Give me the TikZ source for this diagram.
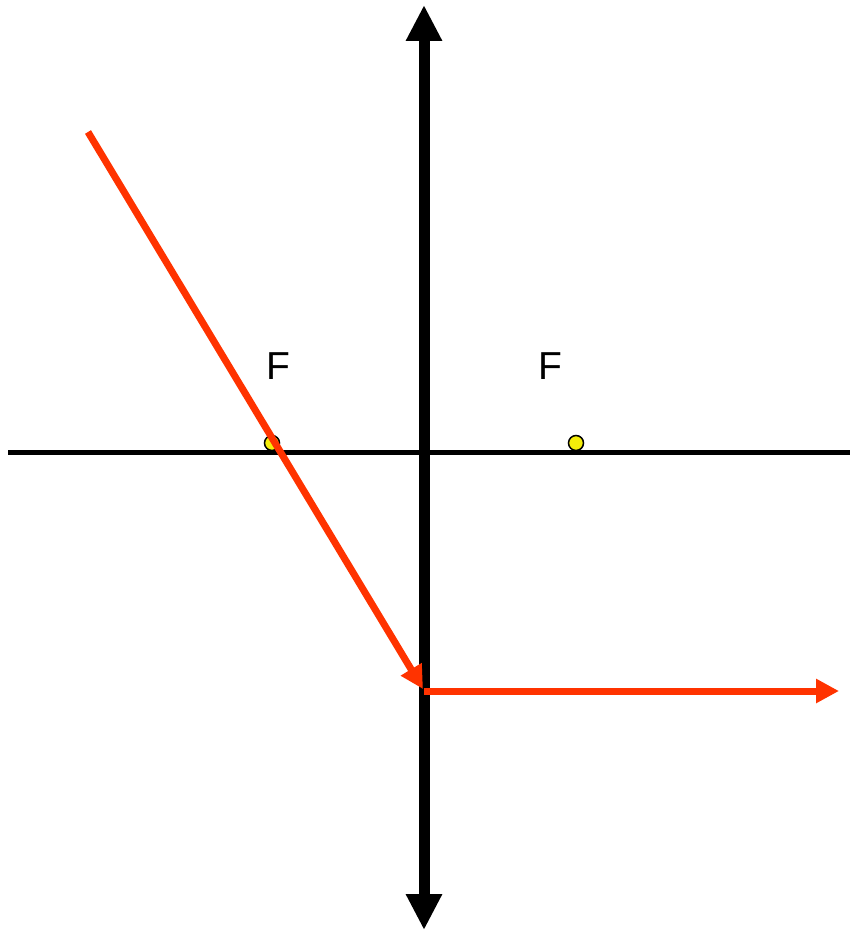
\documentclass[tikz,border=0pt]{standalone}
\usepackage{fontspec}
\setmainfont{Liberation Sans}
\usetikzlibrary{arrows.meta}
\definecolor{ray}{HTML}{FF3300}
\definecolor{focus}{HTML}{F5EE0A}
\tikzset{
  axisline/.style={line width=5pt,draw=black},
  lens/.style={line width=11pt,draw=black,{Triangle[length=36pt,width=34pt]}-{Triangle[length=36pt,width=34pt]}},
  rayline/.style={line width=7pt,draw=ray,-{Triangle[length=23pt,width=23pt]}},
  fpt/.style={circle,draw=black,fill=focus,line width=1.5pt,minimum size=15pt,inner sep=0pt},
  flbl/.style={font=\fontsize{39}{39}\selectfont,text=black,inner sep=0pt}
}
\begin{document}
\begin{tikzpicture}[x=1pt,y=-1pt]
  \useasboundingbox (0,0) rectangle (850,933);
  % optical axis and lens
  \coordinate (axl) at (8,452);
  \coordinate (axr) at (850,452);
  \draw[axisline] (axl) -- (axr);
  \coordinate (lt) at (424,5);
  \coordinate (lb) at (424,930);
  \draw[lens] (lb) -- (lt);
  % focal points
  \node[fpt] (f1) at (272,443) {};
  \node[fpt] (f2) at (576,443) {};
  \node[flbl] (l1) at (278,366) {F};
  \node[flbl] (l2) at (550,366) {F};
  % ray through the focus, then parallel
  \coordinate (rs) at (88,132);
  \coordinate (rk) at (423,689);
  \coordinate (rh) at (424,691);
  \coordinate (re) at (839,691);
  \draw[rayline] (rs) -- (rk);
  \draw[rayline] (rh) -- (re);
\end{tikzpicture}
\end{document}
